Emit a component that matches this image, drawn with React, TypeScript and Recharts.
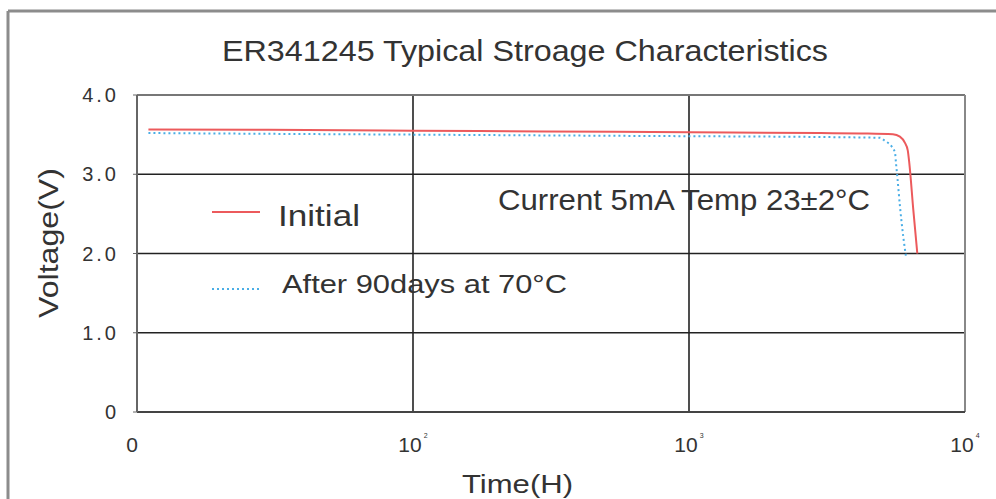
import { LineChart, Line, XAxis, YAxis, CartesianGrid, ReferenceLine } from 'recharts';

// hours on a log axis, volts
const INITIAL_HOURS = [11, 30, 100, 300, 1000, 3000, 4200, 5480, 5810, 6060, 6200, 6284, 6497, 6718];
const INITIAL_VOLTS = [3.565, 3.56, 3.55, 3.54, 3.53, 3.52, 3.515, 3.505, 3.475, 3.395, 3.305, 3.14, 2.55, 2.0];

const AGED_HOURS = [11, 30, 100, 300, 1000, 3000, 4000, 4920, 5130, 5425, 5578, 5623, 5685, 5814, 5976, 6112];
const AGED_VOLTS = [3.52, 3.51, 3.5, 3.49, 3.48, 3.47, 3.465, 3.46, 3.42, 3.35, 3.27, 3.14, 2.97, 2.59, 2.21, 1.96];

const TIME_TICKS = [10, 100, 1000, 10000];
const TIME_TICK_BASE = ['0', '10', '10', '10'];
const TIME_TICK_EXP = ['', '2', '3', '4'];

const VOLT_TICKS = [0, 1, 2, 3, 4];
const VOLT_TICK_LABELS = ['0', '1.0', '2.0', '3.0', '4.0'];

const initialData = INITIAL_HOURS.map((t, i) => ({ t, v: INITIAL_VOLTS[i] }));
const agedData = AGED_HOURS.map((t, i) => ({ t, v: AGED_VOLTS[i] }));

const FONT = '"Liberation Sans Narrow", "Liberation Sans", Arial, sans-serif';
const INK = '#333';
const RED = '#ec5a5c';
const BLUE = '#4aaee6';

function TimeTick({ x, y, index }: any) {
  return (
    <text x={x} y={y + 40} textAnchor="middle" fontFamily={FONT} fontSize={21} fill={INK}>
      <tspan dx={index === 0 ? -5 : 0}>{TIME_TICK_BASE[index]}</tspan>
      {TIME_TICK_EXP[index] && (
        <tspan dx={2} dy={-14} fontSize={7}>{TIME_TICK_EXP[index]}</tspan>
      )}
    </text>
  );
}

function VoltTick({ x, y, index }: any) {
  return (
    <text x={x} y={y + 7} textAnchor="end" fontFamily={FONT} fontSize={20} letterSpacing={3} fill={INK}>
      {VOLT_TICK_LABELS[index]}
    </text>
  );
}

export default function App() {
  return (
    <div style={{ position: 'absolute', left: 0, top: 0, width: 996, height: 499, background: '#fff' }}>
      <LineChart
        width={996}
        height={499}
        margin={{ top: 95, right: 31, bottom: 47, left: 77 }}
      >
        <CartesianGrid stroke="#222" strokeWidth={1.6} />
        <XAxis
          type="number"
          dataKey="t"
          scale="log"
          domain={[10, 10000]}
          ticks={TIME_TICKS}
          allowDataOverflow
          height={40}
          tickSize={0}
          tickMargin={0}
          tickLine={false}
          axisLine={{ stroke: '#444', strokeWidth: 2 }}
          tick={<TimeTick />}
        />
        <YAxis
          type="number"
          domain={[0, 4]}
          ticks={VOLT_TICKS}
          width={60}
          tickSize={4}
          tickMargin={14}
          tickLine={{ stroke: '#666' }}
          axisLine={{ stroke: '#666', strokeWidth: 2 }}
          tick={<VoltTick />}
        />
        <ReferenceLine y={4} stroke="#777" strokeWidth={2} />
        <ReferenceLine x={10000} stroke="#888" strokeWidth={2} />
        <Line
          data={agedData}
          dataKey="v"
          type="monotone"
          stroke={BLUE}
          strokeWidth={2}
          strokeDasharray="2 3"
          dot={false}
          isAnimationActive={false}
        />
        <Line
          data={initialData}
          dataKey="v"
          type="monotone"
          stroke={RED}
          strokeWidth={2}
          dot={false}
          isAnimationActive={false}
        />
      </LineChart>

      <svg
        width={996}
        height={499}
        style={{ position: 'absolute', left: 0, top: 0, pointerEvents: 'none' }}
      >
        {/* outer frame */}
        <line x1={8} y1={11} x2={996} y2={11} stroke="#8c8c8c" strokeWidth={3} />
        <line x1={8} y1={11} x2={8} y2={499} stroke="#8c8c8c" strokeWidth={3} />

        <text x={222} y={61} fontFamily={FONT} fontSize={29} fill={INK} textLength={606} lengthAdjust="spacingAndGlyphs">
          ER341245 Typical Stroage Characteristics
        </text>

        <text x={462} y={493} fontFamily={FONT} fontSize={26} fill={INK} textLength={111} lengthAdjust="spacingAndGlyphs">
          Time(H)
        </text>
        <text
          transform="translate(58 318) rotate(-90)"
          fontFamily={FONT}
          fontSize={27}
          fill={INK}
          textLength={150}
          lengthAdjust="spacingAndGlyphs"
        >
          Voltage(V)
        </text>

        {/* legend */}
        <line x1={212} y1={212} x2={260} y2={212} stroke={RED} strokeWidth={2} />
        <text x={278} y={226} fontFamily={FONT} fontSize={30} fill={INK} textLength={82} lengthAdjust="spacingAndGlyphs">
          Initial
        </text>
        <line x1={212} y1={289} x2={260} y2={289} stroke={BLUE} strokeWidth={2} strokeDasharray="2 3" />
        <text x={282} y={293} fontFamily={FONT} fontSize={25} fill={INK} textLength={285} lengthAdjust="spacingAndGlyphs">
          After 90days at 70°C
        </text>

        <text x={498} y={210} fontFamily={FONT} fontSize={29} fill={INK} textLength={372} lengthAdjust="spacingAndGlyphs">
          Current 5mA  Temp 23±2°C
        </text>
      </svg>
    </div>
  );
}
